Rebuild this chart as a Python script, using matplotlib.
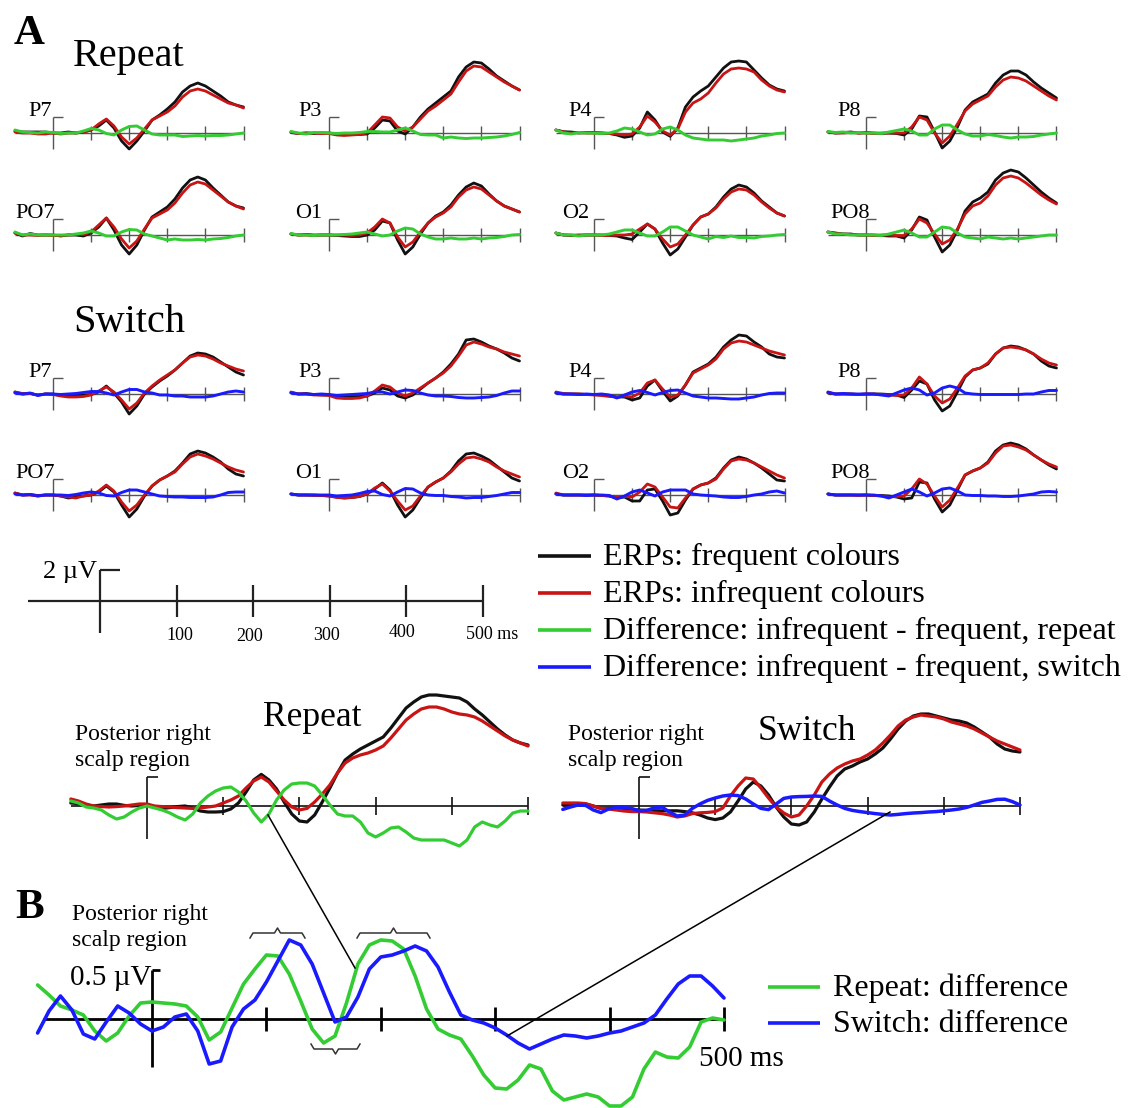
import numpy as np
import matplotlib
matplotlib.use('Agg')
import matplotlib.pyplot as plt

plt.rcParams['font.family'] = ['Liberation Serif', 'DejaVu Serif']

W, H = 1128, 1108
fig = plt.figure(figsize=(W / 100, H / 100), dpi=100)

BLACK = '#111111'
RED = '#c81414'
GREEN = '#33cc33'
BLUE = '#1a1aff'

# sample times (ms)
t_small = np.arange(-100, 501, 20)
t_fine = np.arange(-100, 501, 10)

# ---- small panels, Repeat (µV) ----
rep_P7_freq = [0.2, 0.1, 0.1, 0.1, 0.1, 0.0, 0.0, 0.1, 0.0, 0.1, 0.3, 0.7, 1.3, 0.5, -0.8, -1.6, -0.8, 0.2, 1.3, 1.8, 2.4, 3.1, 4.1, 4.7, 5.0, 4.7, 4.2, 3.7, 3.1, 2.8, 2.6]
rep_P7_infreq = [0.1, 0.0, 0.0, -0.1, -0.1, 0.0, -0.1, 0.0, 0.0, 0.1, 0.3, 0.9, 1.4, 0.7, -0.4, -1.1, -0.5, 0.4, 1.3, 1.7, 2.1, 2.7, 3.6, 4.2, 4.4, 4.2, 3.8, 3.4, 3.0, 2.8, 2.5]
rep_P7_diff = [0.3, 0.1, 0.05, 0.0, 0.1, 0.05, -0.05, 0.0, 0.0, 0.2, 0.45, 0.3, -0.05, -0.2, 0.3, 0.65, 0.7, 0.3, -0.1, -0.2, -0.2, -0.2, -0.35, -0.3, -0.25, -0.3, -0.25, -0.25, -0.2, -0.1, 0.0]

rep_P3_freq = [0.05, -0.05, 0.0, -0.05, 0.0, 0.0, -0.1, -0.15, -0.15, -0.15, -0.1, 0.5, 1.3, 1.2, 0.2, -0.1, 0.6, 1.6, 2.4, 3.0, 3.6, 4.2, 5.6, 6.6, 7.1, 7.0, 6.4, 5.7, 5.2, 4.7, 4.3]
rep_P3_infreq = [0.1, -0.05, 0.0, 0.0, -0.05, -0.05, -0.2, -0.25, -0.2, -0.15, 0.0, 0.8, 1.6, 1.5, 0.6, 0.2, 0.6, 1.4, 2.2, 2.7, 3.3, 3.9, 5.1, 6.2, 6.7, 6.6, 6.1, 5.6, 5.1, 4.7, 4.3]
rep_P3_diff = [0.15, 0.0, -0.1, 0.05, 0.05, 0.0, -0.05, 0.0, 0.0, 0.05, 0.15, 0.15, 0.1, 0.1, 0.3, 0.5, 0.2, -0.15, -0.2, -0.2, -0.5, -0.4, -0.5, -0.55, -0.5, -0.5, -0.45, -0.4, -0.3, -0.15, 0.05]

rep_P4_freq = [0.3, 0.13, 0.1, 0.0, 0.05, 0.05, 0.0, -0.05, -0.2, -0.43, -0.3, 0.5, 2.1, 1.3, 0.1, -0.33, 0.5, 2.6, 3.6, 4.2, 4.7, 5.6, 6.5, 7.1, 7.2, 7.1, 6.3, 5.5, 4.8, 4.4, 4.2]
rep_P4_infreq = [0.3, 0.1, 0.0, 0.05, 0.0, 0.0, 0.0, -0.05, -0.1, -0.2, -0.1, 0.6, 1.7, 1.1, 0.2, -0.2, 0.4, 2.1, 3.0, 3.4, 4.0, 5.0, 5.9, 6.4, 6.5, 6.4, 6.1, 5.3, 4.7, 4.3, 4.1]
rep_P4_diff = [0.3, 0.0, -0.1, 0.05, 0.0, 0.0, -0.05, 0.0, 0.2, 0.5, 0.4, 0.1, -0.2, -0.1, 0.4, 0.6, 0.3, -0.2, -0.5, -0.6, -0.7, -0.7, -0.7, -0.8, -0.7, -0.6, -0.5, -0.3, -0.2, -0.05, 0.0]

rep_P8_freq = [0.1, 0.0, 0.05, 0.1, 0.0, 0.05, 0.0, -0.05, 0.0, -0.05, -0.2, 0.4, 1.7, 1.6, 0.1, -1.5, -0.8, 0.6, 2.3, 3.1, 3.5, 3.9, 5.0, 5.8, 6.2, 6.2, 5.8, 5.1, 4.5, 4.0, 3.5]
rep_P8_infreq = [0.1, 0.0, 0.0, 0.05, 0.0, 0.0, -0.05, 0.0, 0.0, 0.0, 0.0, 0.6, 1.6, 1.3, 0.0, -1.0, -0.3, 0.9, 2.2, 2.9, 3.3, 3.7, 4.6, 5.3, 5.6, 5.5, 5.2, 4.7, 4.2, 3.7, 3.3]
rep_P8_diff = [0.15, 0.05, 0.1, 0.0, 0.05, 0.0, 0.0, -0.05, 0.1, 0.25, 0.4, 0.2, -0.2, -0.2, 0.4, 0.8, 0.8, 0.3, -0.1, -0.3, -0.3, -0.15, -0.25, -0.4, -0.5, -0.4, -0.4, -0.35, -0.2, -0.1, 0.0]

rep_PO7_freq = [0.2, -0.1, 0.15, 0.0, 0.0, 0.0, -0.1, 0.0, 0.0, -0.1, 0.2, 0.8, 1.7, 0.5, -1.0, -1.9, -1.0, 0.5, 1.8, 2.3, 2.8, 3.6, 4.7, 5.5, 5.8, 5.5, 4.7, 4.0, 3.3, 2.9, 2.7]
rep_PO7_infreq = [0.2, 0.0, 0.0, -0.05, 0.0, -0.05, -0.05, 0.0, 0.05, 0.05, 0.3, 1.0, 1.7, 0.8, -0.4, -1.3, -0.6, 0.6, 1.7, 2.1, 2.5, 3.2, 4.2, 5.0, 5.3, 5.1, 4.5, 3.9, 3.3, 2.9, 2.6]
rep_PO7_diff = [0.3, 0.0, 0.1, 0.0, 0.0, 0.0, 0.0, 0.0, 0.1, 0.2, 0.4, 0.2, -0.1, -0.1, 0.3, 0.55, 0.5, 0.1, -0.1, -0.3, -0.5, -0.4, -0.5, -0.5, -0.45, -0.5, -0.4, -0.35, -0.25, -0.1, 0.0]

rep_O1_freq = [0.1, 0.0, 0.05, 0.0, 0.0, 0.0, -0.05, -0.1, -0.15, -0.15, 0.0, 0.5, 1.4, 1.2, -0.5, -1.9, -1.2, 0.1, 1.2, 1.9, 2.3, 3.0, 4.0, 4.8, 5.2, 4.9, 4.1, 3.4, 2.9, 2.6, 2.3]
rep_O1_infreq = [0.1, 0.0, 0.0, -0.05, 0.0, 0.0, 0.0, 0.0, -0.05, 0.0, 0.2, 0.8, 1.6, 1.2, -0.2, -1.2, -0.7, 0.3, 1.2, 1.8, 2.2, 2.8, 3.8, 4.5, 4.8, 4.6, 4.0, 3.4, 2.9, 2.6, 2.3]
rep_O1_diff = [0.15, 0.0, 0.0, -0.05, 0.0, 0.0, 0.0, 0.05, 0.1, 0.2, 0.3, 0.1, -0.1, 0.0, 0.4, 0.7, 0.6, 0.1, -0.2, -0.4, -0.4, -0.3, -0.4, -0.4, -0.3, -0.4, -0.3, -0.25, -0.15, 0.0, 0.05]

rep_O2_freq = [0.2, 0.0, -0.05, 0.0, 0.0, 0.0, 0.0, -0.05, -0.1, -0.3, -0.45, 0.3, 1.1, 0.6, -0.8, -2.0, -1.4, -0.2, 1.0, 1.8, 2.1, 2.8, 3.8, 4.6, 5.0, 4.8, 4.2, 3.4, 2.8, 2.2, 1.9]
rep_O2_infreq = [0.2, 0.0, 0.0, -0.05, 0.0, 0.0, -0.05, -0.05, 0.0, 0.0, 0.1, 0.6, 1.1, 0.6, -0.4, -1.2, -0.9, 0.0, 1.0, 1.8, 2.1, 2.7, 3.6, 4.3, 4.6, 4.5, 4.0, 3.3, 2.7, 2.2, 1.9]
rep_O2_diff = [0.2, 0.0, 0.0, -0.1, 0.0, 0.0, 0.0, 0.1, 0.3, 0.5, 0.5, 0.2, -0.1, -0.1, 0.3, 0.8, 0.8, 0.4, 0.0, -0.2, -0.4, -0.15, -0.25, -0.1, -0.25, -0.25, -0.3, -0.15, -0.1, 0.0, 0.05]

rep_PO8_freq = [0.3, 0.2, 0.1, 0.1, 0.0, 0.0, 0.0, -0.05, -0.1, -0.1, -0.3, 0.5, 1.8, 1.5, -0.2, -1.7, -1.0, 0.5, 2.4, 3.3, 3.7, 4.3, 5.5, 6.2, 6.5, 6.3, 5.7, 5.0, 4.3, 3.7, 3.2]
rep_PO8_infreq = [0.3, 0.15, 0.1, 0.05, 0.0, 0.0, -0.05, 0.0, 0.0, -0.05, -0.05, 0.6, 1.6, 1.2, 0.1, -0.9, -0.5, 0.6, 2.1, 2.9, 3.2, 3.9, 5.0, 5.7, 5.9, 5.7, 5.2, 4.6, 4.0, 3.5, 3.1]
rep_PO8_diff = [0.3, 0.1, 0.1, 0.0, 0.0, 0.0, 0.0, -0.05, 0.1, 0.3, 0.5, 0.2, -0.2, -0.2, 0.3, 0.8, 0.7, 0.2, -0.2, -0.3, -0.4, -0.2, -0.3, -0.4, -0.3, -0.4, -0.3, -0.2, -0.1, 0.0, 0.0]

# ---- small panels, Switch (µV) ----
sw_P7_freq = [0.2, 0.0, 0.05, -0.1, 0.0, 0.0, -0.15, -0.2, -0.15, -0.1, -0.05, 0.2, 0.8, 0.1, -0.8, -2.0, -1.2, 0.0, 0.7, 1.3, 1.8, 2.4, 3.1, 3.8, 4.1, 4.0, 3.7, 3.2, 2.7, 2.2, 1.9]
sw_P7_infreq = [0.2, 0.05, 0.05, -0.1, 0.0, -0.05, -0.2, -0.3, -0.3, -0.25, -0.1, 0.3, 0.7, 0.2, -0.6, -1.5, -0.9, 0.1, 0.8, 1.4, 1.9, 2.4, 3.1, 3.7, 3.9, 3.8, 3.5, 3.1, 2.8, 2.5, 2.3]
sw_P7_diff = [0.1, 0.0, 0.1, -0.15, 0.0, 0.0, -0.05, 0.0, 0.05, 0.15, 0.25, 0.25, 0.1, -0.1, 0.2, 0.45, 0.45, 0.2, 0.1, -0.1, -0.1, -0.2, -0.2, -0.3, -0.3, -0.3, -0.2, 0.0, 0.2, 0.3, 0.2]

sw_P3_freq = [0.15, 0.0, 0.05, -0.05, -0.1, -0.1, -0.2, -0.25, -0.25, -0.25, -0.2, 0.1, 0.6, 0.4, -0.2, -0.4, -0.1, 0.5, 1.1, 1.6, 2.2, 3.0, 4.0, 5.4, 5.5, 5.2, 4.8, 4.5, 4.1, 3.6, 3.3]
sw_P3_infreq = [0.2, 0.0, 0.0, -0.1, -0.1, -0.15, -0.4, -0.45, -0.45, -0.4, -0.2, 0.3, 0.9, 0.7, 0.1, -0.2, 0.1, 0.6, 1.1, 1.6, 2.1, 2.8, 3.8, 4.9, 5.2, 5.0, 4.7, 4.5, 4.2, 4.0, 3.8]
sw_P3_diff = [0.1, 0.0, 0.0, -0.05, 0.0, -0.05, -0.15, -0.1, -0.05, 0.0, 0.05, 0.2, 0.2, 0.0, 0.2, 0.4, 0.35, 0.1, -0.1, -0.2, -0.2, -0.25, -0.35, -0.4, -0.4, -0.35, -0.3, -0.15, 0.1, 0.3, 0.3]

sw_P4_freq = [0.1, 0.0, 0.0, 0.0, -0.05, -0.05, -0.1, -0.15, -0.3, -0.3, -0.6, -0.4, 0.8, 1.4, 0.3, -0.7, -0.2, 0.9, 2.2, 2.6, 3.0, 3.7, 4.7, 5.4, 5.9, 5.8, 5.2, 4.7, 4.0, 3.7, 3.6]
sw_P4_infreq = [0.2, 0.05, 0.0, 0.0, -0.05, -0.1, -0.15, -0.25, -0.3, -0.2, -0.3, 0.1, 1.1, 1.4, 0.5, -0.3, -0.1, 0.9, 2.1, 2.5, 2.9, 3.5, 4.5, 5.1, 5.3, 5.2, 4.9, 4.6, 4.3, 4.1, 3.9]
sw_P4_diff = [0.1, 0.0, 0.0, -0.05, 0.0, -0.05, 0.0, -0.1, -0.4, -0.1, 0.2, 0.35, 0.15, -0.1, 0.15, 0.35, 0.4, 0.1, -0.2, -0.3, -0.4, -0.4, -0.45, -0.5, -0.5, -0.4, -0.3, -0.1, 0.05, 0.1, 0.1]

sw_P8_freq = [0.1, 0.0, 0.0, 0.0, -0.05, 0.0, 0.0, 0.0, -0.05, -0.1, -0.35, 0.4, 1.3, 1.0, -0.6, -1.7, -1.2, 0.2, 1.7, 2.4, 2.6, 3.0, 4.0, 4.6, 4.8, 4.7, 4.4, 4.0, 3.3, 2.8, 2.6]
sw_P8_infreq = [0.15, 0.0, 0.0, 0.0, -0.05, 0.0, 0.0, -0.05, -0.1, -0.15, -0.1, 0.6, 1.7, 1.0, -0.2, -0.9, -0.5, 0.6, 1.8, 2.4, 2.6, 3.1, 4.0, 4.6, 4.7, 4.6, 4.4, 4.0, 3.5, 3.1, 2.9]
sw_P8_diff = [0.2, 0.0, 0.05, 0.0, 0.0, 0.0, 0.0, -0.1, -0.2, 0.1, 0.4, 0.6, 0.4, -0.1, 0.1, 0.6, 0.8, 0.6, 0.1, 0.0, -0.05, -0.05, -0.05, -0.05, -0.05, -0.05, 0.0, 0.0, 0.2, 0.35, 0.35]

sw_PO7_freq = [0.2, 0.0, 0.05, -0.05, 0.0, 0.0, -0.1, -0.3, -0.2, -0.1, 0.0, 0.3, 0.9, 0.3, -1.0, -2.2, -1.4, -0.1, 0.9, 1.5, 1.9, 2.4, 3.2, 4.1, 4.4, 4.2, 3.8, 3.3, 2.6, 2.1, 1.9]
sw_PO7_infreq = [0.2, 0.0, 0.0, -0.1, 0.0, 0.0, -0.1, -0.2, -0.3, -0.1, 0.0, 0.4, 1.0, 0.4, -0.7, -1.6, -1.0, 0.0, 0.9, 1.5, 1.9, 2.3, 3.1, 3.8, 4.1, 3.9, 3.6, 3.2, 2.8, 2.5, 2.3]
sw_PO7_diff = [0.1, 0.0, 0.05, -0.1, 0.0, 0.0, 0.0, -0.05, 0.05, 0.2, 0.3, 0.2, -0.05, -0.1, 0.25, 0.5, 0.5, 0.3, 0.1, -0.1, -0.15, -0.2, -0.2, -0.25, -0.25, -0.25, -0.2, 0.0, 0.25, 0.3, 0.3]

sw_O1_freq = [0.1, 0.0, 0.0, 0.0, -0.05, -0.1, -0.2, -0.3, -0.25, -0.15, 0.1, 0.6, 1.2, 0.5, -1.0, -2.2, -1.5, -0.3, 0.8, 1.3, 1.7, 2.4, 3.4, 4.1, 4.2, 3.9, 3.5, 2.9, 2.3, 1.7, 1.4]
sw_O1_infreq = [0.1, 0.0, 0.0, -0.05, -0.05, -0.1, -0.25, -0.3, -0.25, -0.15, 0.1, 0.7, 1.1, 0.4, -0.6, -1.5, -1.1, -0.1, 0.8, 1.3, 1.7, 2.3, 3.1, 3.7, 3.8, 3.6, 3.3, 2.8, 2.4, 2.1, 1.8]
sw_O1_diff = [0.1, 0.0, 0.0, 0.0, 0.0, 0.0, -0.1, -0.05, 0.0, 0.15, 0.35, 0.4, 0.05, -0.1, 0.3, 0.65, 0.6, 0.2, 0.0, -0.05, -0.05, -0.15, -0.2, -0.3, -0.25, -0.25, -0.15, -0.05, 0.1, 0.25, 0.25]

sw_O2_freq = [0.1, 0.0, 0.0, 0.0, 0.0, 0.0, -0.05, -0.1, -0.3, -0.2, -0.6, -0.6, 0.5, 0.6, -0.6, -2.0, -1.8, -0.5, 0.6, 1.0, 1.2, 1.7, 2.7, 3.5, 3.8, 3.6, 3.2, 2.7, 2.1, 1.5, 1.4]
sw_O2_infreq = [0.2, 0.0, 0.0, 0.0, 0.0, 0.0, -0.05, -0.1, -0.25, -0.15, -0.2, 0.3, 1.1, 0.8, -0.2, -1.2, -1.3, -0.3, 0.6, 1.0, 1.2, 1.6, 2.6, 3.4, 3.6, 3.5, 3.2, 2.8, 2.4, 2.0, 1.7]
sw_O2_diff = [0.1, 0.0, 0.0, 0.0, -0.05, 0.0, 0.0, -0.05, -0.4, -0.1, 0.3, 0.5, 0.2, -0.1, 0.3, 0.5, 0.5, 0.5, 0.1, 0.0, -0.05, -0.1, -0.2, -0.25, -0.25, -0.15, 0.0, 0.1, 0.3, 0.4, 0.2]

sw_PO8_freq = [0.1, 0.0, 0.0, 0.0, 0.0, 0.0, -0.05, -0.05, -0.1, -0.2, -0.4, -0.3, 1.3, 1.2, -0.4, -1.7, -1.0, 0.5, 2.0, 2.4, 2.7, 3.3, 4.4, 5.0, 5.2, 5.0, 4.6, 4.0, 3.5, 3.0, 2.6]
sw_PO8_infreq = [0.1, 0.0, 0.0, 0.0, -0.05, 0.0, -0.05, -0.1, -0.2, -0.15, -0.1, 0.6, 1.6, 1.1, -0.1, -1.2, -0.5, 0.7, 2.0, 2.4, 2.7, 3.2, 4.2, 4.9, 5.0, 4.8, 4.5, 4.0, 3.5, 3.1, 2.8]
sw_PO8_diff = [0.1, 0.0, 0.0, 0.0, 0.0, 0.0, 0.0, -0.1, -0.3, 0.0, 0.3, 0.6, 0.3, -0.1, 0.2, 0.6, 0.7, 0.4, 0.0, -0.05, -0.05, -0.1, -0.1, -0.15, -0.15, -0.1, 0.0, 0.1, 0.3, 0.35, 0.3]

# ---- posterior right region (µV) ----
region_rep_freq = [0.15, 0.12, 0.05, 0.0, 0.05, 0.1, 0.1, 0.03, 0.0, 0.03,
                   0.05, -0.05, -0.12, -0.08, -0.03, 0.0, -0.1, -0.25, -0.3, -0.3,
                   -0.28, -0.15, 0.15, 0.7, 1.3, 1.58, 1.3, 0.85, 0.2, -0.4,
                   -0.75, -0.8, -0.45, 0.2, 0.9, 1.65, 2.3, 2.6, 2.85, 3.05,
                   3.25, 3.45, 3.9, 4.4, 4.9, 5.2, 5.45, 5.55, 5.55, 5.5,
                   5.45, 5.4, 5.2, 4.85, 4.55, 4.2, 3.85, 3.55, 3.3, 3.15, 3.05]
region_rep_infreq = [0.35, 0.25, 0.1, 0.0, -0.03, -0.05, -0.03, 0.0, 0.05, 0.1,
                     0.1, 0.0, -0.03, -0.05, -0.08, -0.1, -0.12, -0.1, -0.05, 0.0,
                     0.15, 0.3, 0.5, 0.9, 1.25, 1.45, 1.2, 0.75, 0.3, -0.05,
                     -0.2, -0.12, 0.2, 0.6, 1.05, 1.65, 2.15, 2.4, 2.55, 2.65,
                     2.8, 3.0, 3.4, 3.85, 4.3, 4.6, 4.85, 4.95, 4.95, 4.85,
                     4.7, 4.6, 4.55, 4.45, 4.25, 4.0, 3.75, 3.5, 3.3, 3.15, 3.0]
region_rep_diff = [0.25, 0.15, -0.05, -0.1, -0.2, -0.45, -0.65, -0.55, -0.3, -0.1,
                   0.0, -0.1, -0.2, -0.35, -0.55, -0.7, -0.4, 0.15, 0.5, 0.75,
                   0.9, 0.95, 0.7, 0.25, -0.35, -0.8, -0.4, 0.3, 0.8, 1.1,
                   1.15, 1.15, 1.0, 0.55, 0.05, -0.4, -0.5, -0.5, -0.8, -1.35,
                   -1.55, -1.35, -1.1, -1.05, -1.3, -1.6, -1.7, -1.7, -1.7, -1.7,
                   -1.85, -2.0, -1.7, -1.05, -0.8, -0.95, -1.05, -0.75, -0.35, -0.25, -0.25]

region_sw_freq = [0.05, 0.08, 0.1, 0.1, 0.0, -0.12, -0.12, -0.12, -0.15, -0.18,
                  -0.2, -0.22, -0.24, -0.24, -0.24, -0.24, -0.28, -0.34, -0.45, -0.6,
                  -0.68, -0.6, -0.3, 0.25, 0.85, 1.2, 1.0, 0.55, -0.05, -0.55,
                  -0.9, -0.95, -0.8, -0.3, 0.35, 0.95, 1.5, 1.85, 2.0, 2.2,
                  2.35, 2.6, 2.9, 3.35, 3.85, 4.25, 4.5, 4.6, 4.6, 4.5,
                  4.4, 4.3, 4.25, 4.15, 3.95, 3.7, 3.45, 3.1, 2.85, 2.75, 2.7]
region_sw_infreq = [0.15, 0.15, 0.15, 0.12, 0.0, -0.12, -0.15, -0.2, -0.25, -0.28,
                    -0.28, -0.3, -0.34, -0.38, -0.45, -0.55, -0.5, -0.38, -0.34, -0.32,
                    -0.28, -0.1, 0.5, 1.0, 1.4, 1.35, 0.9, 0.4, -0.05, -0.35,
                    -0.55, -0.45, 0.0, 0.55, 1.2, 1.6, 1.9, 2.1, 2.25, 2.35,
                    2.55, 2.8, 3.15, 3.55, 4.0, 4.3, 4.45, 4.55, 4.5, 4.45,
                    4.35, 4.2, 4.1, 4.0, 3.85, 3.65, 3.45, 3.25, 3.1, 2.95, 2.8]
region_sw_diff = [-0.17, -0.05, 0.05, 0.03, -0.2, -0.33, -0.15, -0.08, -0.07, -0.12,
                  -0.24, -0.22, -0.1, -0.05, -0.3, -0.5, -0.45, -0.12, 0.1, 0.28,
                  0.4, 0.5, 0.55, 0.52, 0.35, 0.1, -0.12, -0.18, 0.1, 0.38,
                  0.45, 0.47, 0.48, 0.5, 0.48, 0.25, 0.05, -0.12, -0.22, -0.28,
                  -0.33, -0.38, -0.42, -0.45, -0.42, -0.38, -0.35, -0.33, -0.3, -0.28,
                  -0.24, -0.2, -0.15, -0.07, 0.05, 0.18, 0.25, 0.33, 0.34, 0.22, 0.05]

# ---- panel B difference waves (µV) ----
b_repeat_diff = [0.34, 0.24, 0.13, 0.09, 0.04, -0.12, -0.22, -0.14, 0.03, 0.16,
                 0.17, 0.16, 0.15, 0.13, 0.02, -0.21, -0.13, 0.11, 0.35, 0.5,
                 0.64, 0.63, 0.45, 0.18, -0.1, -0.24, -0.17, 0.16, 0.55, 0.74,
                 0.79, 0.78, 0.7, 0.43, 0.1, -0.1, -0.16, -0.2, -0.37, -0.56,
                 -0.69, -0.7, -0.61, -0.46, -0.5, -0.72, -0.81, -0.78, -0.75, -0.78,
                 -0.87, -0.87, -0.78, -0.5, -0.33, -0.38, -0.39, -0.28, -0.03, 0.01, -0.01]
b_switch_diff = [-0.14, 0.08, 0.23, 0.09, -0.15, -0.2, -0.03, 0.13, 0.06, -0.05,
                 -0.12, -0.08, 0.02, 0.05, -0.12, -0.45, -0.42, -0.08, 0.1, 0.19,
                 0.37, 0.58, 0.79, 0.74, 0.55, 0.26, -0.03, 0.02, 0.22, 0.5,
                 0.62, 0.64, 0.68, 0.73, 0.68, 0.52, 0.27, 0.04, -0.01, -0.04,
                 -0.09, -0.16, -0.24, -0.3, -0.25, -0.2, -0.16, -0.17, -0.19, -0.17,
                 -0.14, -0.12, -0.08, -0.04, 0.04, 0.2, 0.35, 0.43, 0.43, 0.33, 0.21]

electrodes_top = ['P7', 'P3', 'P4', 'P8']
electrodes_bottom = ['PO7', 'O1', 'O2', 'PO8']
legend_labels = ['ERPs: frequent colours', 'ERPs: infrequent colours',
                 'Difference: infrequent - frequent, repeat',
                 'Difference: infrequent - frequent, switch']
scale_ticks = [100, 200, 300, 400, 500]


def make_axes(x0, y0, sx, sy, ya=-3.0, yb=8.0):
    # x0: pixel of 0 ms, y0: pixel of baseline, sx: px per ms, sy: px per µV
    xa, xb = -120, 520
    left, right = x0 + xa * sx, x0 + xb * sx
    top, bottom = y0 - yb * sy, y0 - ya * sy
    ax = fig.add_axes([left / W, 1 - bottom / H, (right - left) / W, (bottom - top) / H])
    ax.set_xlim(xa, xb)
    ax.set_ylim(ya, yb)
    ax.axis('off')
    return ax


def frame(ax, sx, sy, up, down, tick, cap, color='#333333', lw=0.9, start=-100):
    kw = dict(color=color, lw=lw, clip_on=False, solid_capstyle='butt')
    ax.plot([start, 500], [0, 0], **kw)
    ax.plot([0, 0], [-down / sy, up / sy], **kw)
    ax.plot([0, cap / sx], [up / sy, up / sy], **kw)
    for t in scale_ticks:
        ax.plot([t, t], [-tick / sy, tick / sy], **kw)


def wave(ax, t, v, col, lw):
    ax.plot(t, v, color=col, lw=lw, clip_on=False,
            solid_joinstyle='round', solid_capstyle='round')


# ---- panel A small grids ----
col_x0 = [53, 329, 594, 866]
row_y0 = [133, 235, 394, 495]
lab_x_top = [28, 298, 568, 837]
lab_x_bottom = [15, 295, 562, 830]
SX, SY = 0.381, 10.0

data = globals()
for r in range(4):
    cond = 'rep' if r < 2 else 'sw'
    names = electrodes_top if r % 2 == 0 else electrodes_bottom
    lab_x = lab_x_top if r % 2 == 0 else lab_x_bottom
    diff_col = GREEN if r < 2 else BLUE
    for c in range(4):
        name = names[c]
        ax = make_axes(col_x0[c], row_y0[r], SX, SY)
        frame(ax, SX, SY, 16, 16, 7, 10, color='#555555', lw=1.0)
        wave(ax, t_small, data[f'{cond}_{name}_freq'], BLACK, 2.0)
        wave(ax, t_small, data[f'{cond}_{name}_infreq'], RED, 2.0)
        wave(ax, t_small, data[f'{cond}_{name}_diff'], diff_col, 2.1)
        fig.text(lab_x[c] / W, 1 - (row_y0[r] - 17) / H, name, fontsize=16, va='baseline')

# ---- scale bar ----
ax = make_axes(100, 601, 0.766, 15.5, ya=-3, yb=3)
frame(ax, 0.766, 15.5, 31, 32, 16, 20, color='#222222', lw=1.6, start=-94)

# ---- posterior right region panels ----
MX, MY = 0.762, 20.0
ax = make_axes(147, 806, MX, MY)
frame(ax, MX, MY, 29, 33, 9, 11, color='#111111', lw=1.2)
wave(ax, t_fine, region_rep_freq, BLACK, 2.3)
wave(ax, t_fine, region_rep_infreq, RED, 2.3)
wave(ax, t_fine, region_rep_diff, GREEN, 2.3)

ax = make_axes(639, 806, MX, MY)
frame(ax, MX, MY, 29, 33, 9, 11, color='#111111', lw=1.2)
wave(ax, t_fine, region_sw_freq, BLACK, 2.3)
wave(ax, t_fine, region_sw_infreq, RED, 2.3)
wave(ax, t_fine, region_sw_diff, BLUE, 2.5)

# ---- panel B ----
BX, BY = 1.144, 100.0
ax = make_axes(152, 1019, BX, BY, ya=-1, yb=1)
frame(ax, BX, BY, 49, 48, 12, 8, color='#000000', lw=2.0, start=-95)
wave(ax, t_fine, b_repeat_diff, GREEN, 2.6)
wave(ax, t_fine, b_switch_diff, BLUE, 2.6)

# ---- overlay for text, legend, braces and connectors (pixel coords) ----
ov = fig.add_axes([0, 0, 1, 1])
ov.set_xlim(0, W)
ov.set_ylim(H, 0)
ov.axis('off')

ov.text(14, 44, 'A', fontsize=31, fontweight='bold', va='baseline')
ov.text(15, 918, 'B', fontsize=31, fontweight='bold', va='baseline')
ov.text(73, 66, 'Repeat', fontsize=29, va='baseline')
ov.text(73, 332, 'Switch', fontsize=29, va='baseline')
ov.text(263, 726, 'Repeat', fontsize=25.5, va='baseline')
ov.text(758, 740, 'Switch', fontsize=25.5, va='baseline')

for x, y in [(75, 740), (568, 740), (72, 920)]:
    ov.text(x, y, 'Posterior right', fontsize=17, va='baseline')
    ov.text(x, y + 26, 'scalp region', fontsize=17, va='baseline')

# scale bar labels
ov.text(97, 578, '2 µV', fontsize=19, ha='right', va='baseline')
for x, y, s in [(180, 640, '100'), (250, 641, '200'), (326, 640, '300'), (402, 637, '400')]:
    ov.text(x, y, s, fontsize=13, ha='center', va='baseline')
ov.text(466, 639, '500 ms', fontsize=13, va='baseline')

# legend A
leg_y = [556, 593, 630, 667]
for y, col, lab in zip(leg_y, [BLACK, RED, GREEN, BLUE], legend_labels):
    ov.plot([538, 591], [y, y], color=col, lw=2.6, solid_capstyle='butt')
    ov.text(603, y + 9, lab, fontsize=23, va='baseline')

# panel B labels and legend
ov.text(151, 985, '0.5 µV', fontsize=21, ha='right', va='baseline')
ov.text(699, 1066, '500 ms', fontsize=21, va='baseline')
for y, col, lab in zip([987, 1023], [GREEN, BLUE], ['Repeat: difference', 'Switch: difference']):
    ov.plot([768, 820], [y, y], color=col, lw=2.6, solid_capstyle='butt')
    ov.text(833, y + 9, lab, fontsize=23, va='baseline')


def brace(x1, x2, y, d):
    # d > 0: tip points up, d < 0: tip points down
    m = (x1 + x2) / 2
    xs = [x1, x1 + 3, m - 3, m, m + 3, x2 - 3, x2]
    ys = [y + d, y, y, y - d, y, y, y + d]
    ov.plot(xs, ys, color='#333333', lw=1.1)


brace(250, 305, 933, 5)
brace(357, 430, 933, 5)
brace(311, 360, 1049, -5)

# connectors from region panels to panel B
ov.plot([268, 355], [815, 968], color='black', lw=1.1)
ov.plot([890, 507], [812, 1036], color='black', lw=1.1)

fig.savefig('out.png', dpi=100, facecolor='white')
